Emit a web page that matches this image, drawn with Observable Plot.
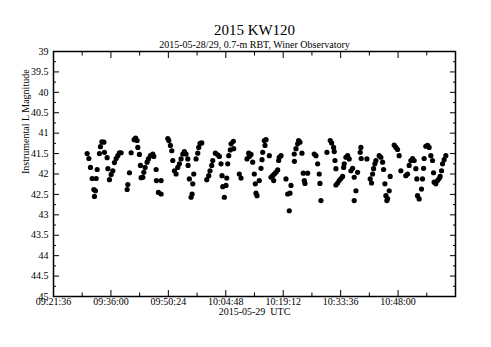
<!DOCTYPE html>
<html><head><meta charset="utf-8">
<script src="https://cdn.jsdelivr.net/npm/d3@7"></script>
<script src="https://cdn.jsdelivr.net/npm/@observablehq/plot@0.6"></script>
<style>body{margin:0;background:#fff} svg{display:block}</style>
</head><body><div id="chart"></div>
<script>
const title = "2015 KW120";
const subtitle = "2015-05-28/29, 0.7-m RBT, Winer Observatory";
const xLabel = "2015-05-29\u00a0 UTC";
const yLabel = "Instrumental L Magnitude";
const obsDate = "2015-05-29";
const xTickLabels = ["09:21:36","09:36:00","09:50:24","10:04:48","10:19:12","10:33:36","10:48:00"];
const xDomain = ["09:21:36","11:02:24"];
const yTicks = [39,39.5,40,40.5,41,41.5,42,42.5,43,43.5,44,44.5,45];

// observation times, minutes after 09:00:00 UTC
const minutesAfter0900 = [
30.04,30.47,30.87,31.30,31.72,31.87,32.12,32.30,32.55,33.12,33.37,33.73,34.23,34.38,35.05,35.23,35.63,36.06,36.48,36.88,37.31,37.73,38.13,38.56,
40.06,40.24,40.64,41.07,41.82,42.19,42.57,42.74,43.14,43.39,43.57,44.00,44.25,44.57,45.07,45.40,45.90,46.50,46.75,47.33,47.40,48.58,47.90,48.58,
50.26,50.51,50.91,51.26,51.51,51.91,52.34,52.76,53.17,53.59,54.02,54.42,54.84,55.27,55.35,55.67,56.52,56.77,56.35,56.10,
57.35,57.77,58.02,58.35,58.78,60.03,60.53,60.85,61.28,61.53,62.18,62.78,63.18,63.61,63.86,64.04,64.86,64.44,65.04,65.29,65.54,65.94,66.79,66.12,66.69,
68.19,68.62,70.12,70.55,70.70,71.13,71.55,71.95,72.20,72.38,72.63,73.20,73.88,74.06,73.63,74.46,74.88,74.63,75.71,76.56,76.96,77.39,77.81,76.14,76.81,78.21,78.64,78.06,
79.89,81.15,80.32,80.89,80.72,81.97,82.40,82.82,83.07,83.40,83.90,82.00,84.23,85.33,84.48,84.65,86.98,87.41,87.83,88.23,88.41,88.66,
90.16,90.99,91.34,91.84,91.99,92.17,92.42,92.42,92.84,93.24,93.67,94.09,94.35,94.50,94.92,95.35,95.75,96.18,96.60,97.00,97.43,97.00,97.85,98.51,98.68,98.75,100.18,
101.01,101.36,101.61,101.86,102.19,102.44,103.27,103.69,104.12,104.37,104.69,104.94,105.19,105.37,105.77,106.02,107.02,107.45,107.87,108.27,
108.70,109.95,110.38,110.78,111.21,111.63,112.03,112.46,112.71,114.13,112.88,113.28,113.88,114.39,114.54,114.96,115.39,115.79,116.22,116.64,
116.89,117.04,117.47,117.89,118.29,118.54,118.90,119.15,119.55,119.97
];
const magnitude = [
41.50,41.62,41.84,42.11,42.38,42.55,42.41,42.11,41.89,41.50,41.33,41.21,41.22,41.47,41.60,41.87,42.14,42.01,41.92,41.72,41.62,41.55,41.48,41.48,
42.38,42.26,41.97,41.48,41.16,41.12,41.18,41.35,41.52,41.79,42.09,42.08,41.96,41.84,41.71,41.63,41.55,41.51,41.57,41.89,42.16,42.16,42.45,42.49,
41.13,41.18,41.30,41.43,41.67,41.92,42.00,41.84,41.75,41.63,41.51,41.45,41.51,41.63,41.79,42.12,42.24,42.00,42.49,42.57,
41.63,41.49,41.35,41.25,41.24,42.14,42.04,41.92,41.79,41.67,41.49,41.53,41.57,41.75,42.04,42.31,42.28,42.57,42.10,41.75,41.55,41.41,41.38,41.26,41.20,
42.00,42.10,41.63,41.49,41.57,41.52,41.71,42.00,42.24,42.47,42.53,42.16,41.65,41.47,41.86,41.18,41.16,41.30,41.55,42.04,42.00,41.96,41.90,42.08,42.16,41.59,41.55,41.67,
42.12,42.28,42.49,42.47,42.90,41.51,41.38,41.26,41.18,41.22,41.49,41.69,41.98,41.98,42.16,42.23,41.51,41.55,41.75,42.00,42.23,42.65,
41.47,41.18,41.24,41.35,41.45,41.67,41.87,42.27,42.22,42.16,42.11,42.06,41.84,41.75,41.59,41.55,41.63,41.92,41.86,42.08,42.41,42.65,41.96,41.47,41.35,41.62,41.63,
42.12,42.22,42.00,41.87,41.75,41.67,41.55,41.59,41.71,41.89,42.24,42.53,42.65,42.60,42.41,42.06,41.29,41.35,41.40,41.55,
41.92,42.04,42.00,41.79,41.67,41.62,41.67,41.87,42.12,42.12,42.53,42.61,42.37,41.86,41.62,41.32,41.30,41.35,41.55,41.67,
41.97,42.20,42.24,42.16,42.11,42.06,41.92,41.75,41.65,41.55
];

const parseT = d3.utcParse("%Y-%m-%d %H:%M:%S");
const toDate = s => parseT(obsDate + " " + s);
const base = toDate("09:00:00");
const n = Math.min(minutesAfter0900.length, magnitude.length);
const data = d3.range(n).map(i => ({t: new Date(+base + minutesAfter0900[i] * 60000), mag: magnitude[i]}));

const domain = xDomain.map(toDate);
const labeled = xTickLabels.map(toDate);
const step = labeled[1] - labeled[0];
const majorX = d3.range(+domain[0], +domain[1] + 1, step).map(v => new Date(v));
const minorX = majorX.slice(0, -1).map(d => new Date(+d + step / 2));
const minorY = yTicks.slice(0, -1).map(v => v + 0.25);
const fmt = d3.utcFormat("%H:%M:%S");

const tk = (fn, data, o) => fn(data, {fill: "none", label: null, stroke: "black", ...o});

const chart = Plot.plot({
  width: 491, height: 347,
  marginLeft: 53, marginRight: 36, marginTop: 51, marginBottom: 51,
  style: {fontFamily: "'Liberation Serif', 'Times New Roman', serif", fontSize: "10px", background: "white", color: "black"},
  x: {type: "utc", domain},
  y: {domain: [39, 45], reverse: true},
  marks: [
    Plot.dot(data, {x: "t", y: "mag", r: 2.6, fill: "black", stroke: null}),
    tk(Plot.axisY, yTicks, {anchor: "left", tickSize: 6, dx: 6}),
    tk(Plot.axisY, minorY, {anchor: "left", tickSize: 3, dx: 3}),
    tk(Plot.axisY, yTicks, {anchor: "right", tickSize: 6, dx: -6}),
    tk(Plot.axisY, minorY, {anchor: "right", tickSize: 3, dx: -3}),
    tk(Plot.axisX, majorX, {anchor: "bottom", tickSize: 6, dy: -6}),
    tk(Plot.axisX, minorX, {anchor: "bottom", tickSize: 3.5, dy: -3.5}),
    tk(Plot.axisX, majorX, {anchor: "top", tickSize: 6, dy: 6}),
    tk(Plot.axisX, minorX, {anchor: "top", tickSize: 3.5, dy: 3.5}),
    Plot.axisY(yTicks, {anchor: "left", tickSize: 0, tickPadding: 5, label: null, tickFormat: d => String(d), fontSize: 10}),
    Plot.axisX(labeled, {anchor: "bottom", tickSize: 0, tickPadding: 1, label: null, tickFormat: fmt, fontSize: 10}),
    Plot.frame({stroke: "black", strokeWidth: 1.5}),
    Plot.text([title], {frameAnchor: "top", dy: -27, text: d => d, fontSize: 15}),
    Plot.text([subtitle], {frameAnchor: "top", dy: -11, text: d => d, fontSize: 10}),
    Plot.text([xLabel], {frameAnchor: "bottom", dy: 18.5, text: d => d, fontSize: 10}),
    Plot.text([yLabel], {frameAnchor: "left", dx: -28, rotate: -90, text: d => d, fontSize: 10})
  ]
});
document.getElementById("chart").appendChild(chart);
</script>
</body></html>
